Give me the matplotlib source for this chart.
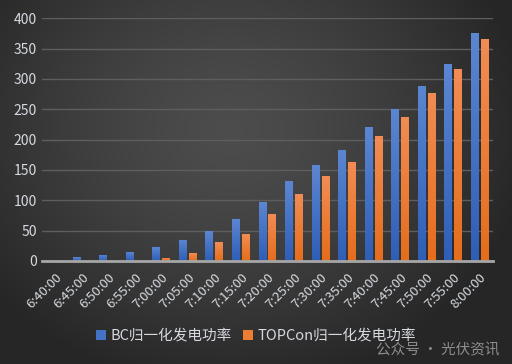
import numpy as np
import matplotlib
matplotlib.use("Agg")
import matplotlib.pyplot as plt
from matplotlib.colors import LinearSegmentedColormap

plt.rcParams['font.family'] = ['Noto Sans CJK SC', 'DejaVu Sans']

categories = ["6:40:00", "6:45:00", "6:50:00", "6:55:00", "7:00:00", "7:05:00",
              "7:10:00", "7:15:00", "7:20:00", "7:25:00", "7:30:00", "7:35:00",
              "7:40:00", "7:45:00", "7:50:00", "7:55:00", "8:00:00"]
bc_values = [0, 6, 10, 15, 23, 35, 49, 69, 97, 132, 158, 183, 221, 251, 289, 325, 376]
topcon_values = [0, 0, 0, 0, 5, 13, 31, 44, 77, 110, 140, 163, 206, 238, 277, 317, 366]
series_names = ["BC归一化发电功率", "TOPCon归一化发电功率"]
yticks = [0, 50, 100, 150, 200, 250, 300, 350, 400]

W, H = 512, 364
fig = plt.figure(figsize=(W / 100, H / 100), dpi=100)

# radial background gradient
bg = fig.add_axes([0, 0, 1, 1], zorder=-10)
yy, xx = np.mgrid[0:H, 0:W]
cx, cy = 230, 130
r = np.sqrt(((xx - cx) / 300.0) ** 2 + ((yy - cy) / 260.0) ** 2)
r = np.clip(r, 0, 1)
val = 0.30 - 0.15 * r ** 1.4
img = np.dstack([val, val, val])
bg.imshow(img, aspect='auto', extent=[0, 1, 0, 1], origin='upper')
bg.set_axis_off()

ax = fig.add_axes([42 / W, 1 - 261 / H, (493 - 42) / W, (261 - 18.3) / H])
ax.set_facecolor('none')

x = np.arange(len(categories))
bw = 0.3
gap = 0.075
off = (bw + gap) / 2
b1 = ax.bar(x - off, bc_values, bw, color='#4472c4', zorder=3, label=series_names[0])
b2 = ax.bar(x + off, topcon_values, bw, color='#ed7d31', zorder=3, label=series_names[1])

cmap_b = LinearSegmentedColormap.from_list('b', ['#2f5eb6', '#5b86d2'])
cmap_o = LinearSegmentedColormap.from_list('o', ['#e56d1c', '#f28c54'])
grad = np.linspace(0, 1, 64).reshape(-1, 1)
for bars, cm in ((b1, cmap_b), (b2, cmap_o)):
    for p in bars:
        h = p.get_height()
        if h <= 0:
            continue
        x0 = p.get_x()
        im = ax.imshow(grad, cmap=cm, aspect='auto', origin='lower',
                       extent=[x0, x0 + p.get_width(), 0, h], zorder=3.5)
        im.set_clip_path(p)

ax.set_xlim(-0.5, len(categories) - 0.5)
ax.set_ylim(0, 400)
ax.set_yticks(yticks)
ax.grid(axis='y', color='#5e5e5e', linewidth=1)
ax.set_axisbelow(True)
for s in ['top', 'right', 'left']:
    ax.spines[s].set_visible(False)
ax.spines['bottom'].set_color('#a6a6a6')
ax.spines['bottom'].set_linewidth(2)
ax.spines['bottom'].set_zorder(5)
ax.tick_params(axis='both', length=0, colors='#d6dae0', labelsize=10)
ax.tick_params(axis='x', pad=7)
ax.set_xticks(x)
ax.set_xticklabels(categories, rotation=45, ha='right', rotation_mode='anchor', fontsize=9.5)

leg = fig.legend(handles=[b1, b2], labels=series_names, loc='center',
                 bbox_to_anchor=(256 / W, 1 - 336 / H), ncol=2, frameon=False,
                 fontsize=10.5, handlelength=0.7, handleheight=0.7, handletextpad=0.3,
                 columnspacing=0.8, labelcolor='#d6dae0')

fig.text(376 / W, 1 - 350 / H, "公众号 · 光伏资讯", color='#b0b0b0', alpha=0.75,
         fontsize=10.5, va='center', ha='left')

fig.savefig('out.png', dpi=100)
